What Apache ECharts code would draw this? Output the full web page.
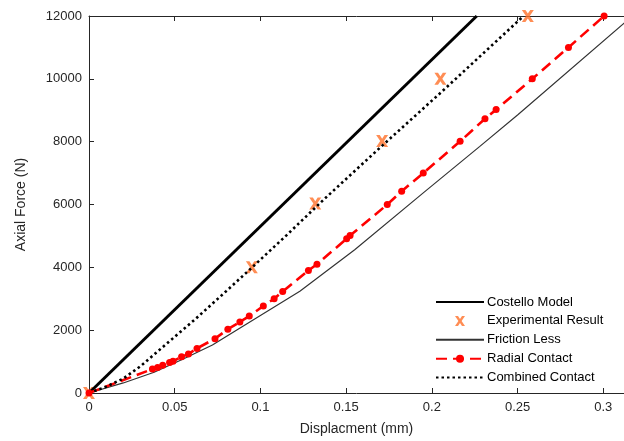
<!DOCTYPE html>
<html>
<head>
<meta charset="utf-8">
<script src="https://cdn.jsdelivr.net/npm/echarts@6/dist/echarts.min.js"></script>
<style>html,body{margin:0;padding:0;background:#fff}#c{width:624px;height:441px}</style>
</head>
<body>
<div id="c"></div>
<script>
// ---- data ----
var xTicks = [0, 0.05, 0.1, 0.15, 0.2, 0.25, 0.3];
var yTicks = [0, 2000, 4000, 6000, 8000, 10000, 12000];

var costelloX = [0, 0.2262];
var costelloY = [0, 12000];

var experimentalX = [0, 0.095, 0.132, 0.171, 0.205, 0.256];
var experimentalY = [0, 4000, 6030, 8020, 10000, 12000];

var frictionX = [0, 0.02, 0.038, 0.055, 0.072, 0.123, 0.155, 0.195, 0.228, 0.25, 0.3125];
var frictionY = [0, 320, 660, 1080, 1530, 3240, 4560, 6370, 7850, 8850, 11790];

var radialX = [0, 0.037, 0.040, 0.043, 0.047, 0.049, 0.054, 0.058, 0.063, 0.0735, 0.081, 0.088, 0.0935, 0.1017, 0.108, 0.113, 0.128, 0.133, 0.1503, 0.1523, 0.174, 0.1824, 0.195, 0.2165, 0.231, 0.2375, 0.2586, 0.2797, 0.3005];
var radialY = [0, 760, 810, 880, 970, 1010, 1150, 1240, 1420, 1730, 2030, 2260, 2450, 2770, 3000, 3230, 3900, 4100, 4910, 5010, 6000, 6420, 7000, 8010, 8730, 9020, 10000, 11000, 12000];

var combinedX = [0, 0.01, 0.02, 0.03, 0.04, 0.05, 0.062, 0.08, 0.095, 0.115, 0.137, 0.17, 0.207, 0.2165, 0.2535];
var combinedY = [0, 200, 460, 850, 1320, 1790, 2350, 3240, 3990, 5010, 6160, 7820, 9650, 10130, 12000];

var seriesNames = ['Costello Model', 'Experimental Result', 'Friction Less', 'Radial Contact', 'Combined Contact'];

function pairs(xs, ys) { return xs.map(function (x, i) { return [x, ys[i]]; }); }

var crossPath = 'path://M0,0 L3,0 L5,3 L7,0 L10,0 L6.6,5 L10,10 L7,10 L5,7 L3,10 L0,10 L3.4,5 Z';
var txt = '#262626';
var font = '"Liberation Sans", Arial, sans-serif';
var orange = '#ff7029';

var chart = echarts.init(document.getElementById('c'), null, {renderer: 'canvas'});
chart.setOption({
  animation: false,
  backgroundColor: '#ffffff',
  grid: {left: 89, top: 16, right: 0, bottom: 47, containLabel: false},
  xAxis: [{
    type: 'value', min: 0, max: 0.3121, interval: 0.05,
    name: 'Displacment (mm)', nameLocation: 'middle', nameGap: 29,
    nameTextStyle: {fontSize: 14, color: txt, fontFamily: font},
    axisLine: {show: true, lineStyle: {color: txt, width: 1}},
    axisTick: {show: true, inside: true, length: 5, lineStyle: {color: txt}},
    axisLabel: {color: txt, fontSize: 13, fontFamily: font, margin: 8, showMaxLabel: false,
      formatter: function (v) { return xTicks.indexOf(Math.round(v * 1000) / 1000) >= 0 ? String(Math.round(v * 1000) / 1000) : ''; }},
    splitLine: {show: false}
  }, {
    type: 'value', position: 'top', min: 0, max: 0.3121, interval: 0.05,
    axisLine: {show: true, onZero: false, lineStyle: {color: txt, width: 1}},
    axisTick: {show: true, inside: true, length: 5, lineStyle: {color: txt}},
    axisLabel: {show: false}, splitLine: {show: false}
  }],
  yAxis: {
    type: 'value', min: 0, max: 12000, interval: 2000,
    name: 'Axial Force (N)', nameLocation: 'middle', nameGap: 61, nameRotate: 90,
    nameTextStyle: {fontSize: 14, color: txt, fontFamily: font},
    axisLine: {show: true, lineStyle: {color: txt, width: 1}},
    axisTick: {show: true, inside: true, length: 5, lineStyle: {color: txt}},
    axisLabel: {color: txt, fontSize: 13, fontFamily: font, margin: 7,
      formatter: function (v) { return yTicks.indexOf(v) >= 0 ? String(v) : ''; }},
    splitLine: {show: false}
  },
  legend: {
    orient: 'vertical', left: 435, top: 295.5, itemWidth: 48, itemHeight: 10, itemGap: 5.9,
    textStyle: {fontSize: 13, color: '#000', fontFamily: font, padding: [0, 0, 0, -2]},
    padding: 0,
    data: [
      {name: seriesNames[0], itemStyle: {opacity: 0}},
      {name: seriesNames[1]},
      {name: seriesNames[2], itemStyle: {opacity: 0}},
      {name: seriesNames[3]},
      {name: seriesNames[4], itemStyle: {opacity: 0}}
    ]
  },
  series: [
    {name: seriesNames[0], type: 'line', data: pairs(costelloX, costelloY), symbol: 'none',
      lineStyle: {color: '#000', width: 3}, itemStyle: {color: '#000'}},
    {name: seriesNames[1], type: 'scatter', data: pairs(experimentalX, experimentalY), symbol: crossPath,
      symbolSize: 12, clip: false, itemStyle: {color: orange}},
    {name: seriesNames[2], type: 'line', data: pairs(frictionX, frictionY), symbol: 'none',
      lineStyle: {color: '#333', width: 1.2}, itemStyle: {color: '#333'}},
    {name: seriesNames[3], type: 'line', data: pairs(radialX, radialY), symbol: 'circle', symbolSize: 7, showSymbol: true,
      lineStyle: {color: '#ff0000', width: 2.6, type: [11, 6]}, itemStyle: {color: '#ff0000'}, clip: false},
    {name: seriesNames[4], type: 'line', data: pairs(combinedX, combinedY), symbol: 'none',
      lineStyle: {color: '#000', width: 2.6, type: [2.5, 3]}, itemStyle: {color: '#000'}}
  ]
});
</script>
</body>
</html>
